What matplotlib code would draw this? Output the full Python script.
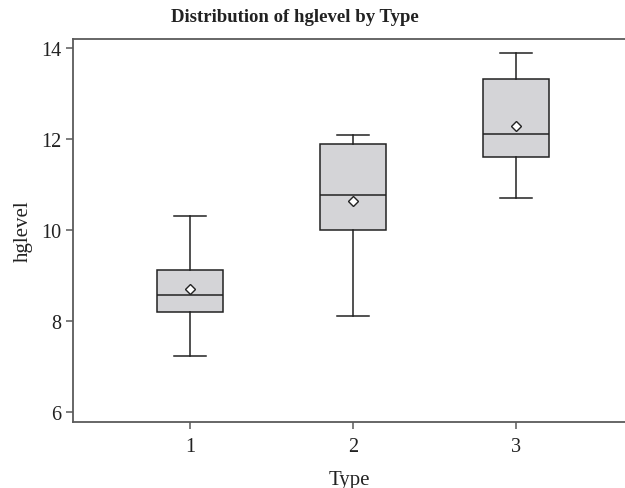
import matplotlib.pyplot as plt

# data
types = ["1", "2", "3"]
whislo = [7.22, 8.12, 10.70]
q1 = [8.20, 10.00, 11.61]
med = [8.57, 10.76, 12.11]
q3 = [9.12, 11.90, 13.32]
whishi = [10.30, 12.09, 13.89]
means = [8.70, 10.64, 12.29]
yticks = [6, 8, 10, 12, 14]

plt.rcParams['font.family'] = ['Liberation Serif', 'DejaVu Serif']

stats = []
for i in range(len(types)):
    stats.append({
        "label": types[i], "whislo": whislo[i], "q1": q1[i], "med": med[i],
        "q3": q3[i], "whishi": whishi[i], "mean": means[i], "fliers": [],
    })

fig = plt.figure(figsize=(6.25, 4.89), dpi=100)
ax = fig.add_axes([73 / 625, 1 - 423 / 489, (625 - 73) / 625, (423 - 40) / 489])

edge = "#222222"
ax.bxp(stats, positions=[1, 2, 3], widths=0.41, showmeans=True, patch_artist=True,
       capwidths=0.2,
       boxprops=dict(facecolor="#d4d4d7", edgecolor=edge, linewidth=1.1),
       medianprops=dict(color=edge, linewidth=1.1),
       whiskerprops=dict(color=edge, linewidth=1.1),
       capprops=dict(color=edge, linewidth=1.1),
       meanprops=dict(marker="D", markerfacecolor="white", markeredgecolor=edge,
                      markersize=5.5, markeredgewidth=1.0))

ax.set_xlim(1 - 117 / 163, 3 + 109 / 163)
ax.set_ylim(6 - 10 / 45.5, 14 + 9 / 45.5)
ax.set_yticks(yticks)
ax.set_yticklabels([str(t) for t in yticks])

ax.spines["right"].set_visible(False)
for s in ["left", "top", "bottom"]:
    ax.spines[s].set_color("#5a5a5a")
    ax.spines[s].set_linewidth(1.3)
ax.tick_params(axis="both", colors="#5a5a5a", labelcolor="#222222", labelsize=14.5,
               length=5, width=1.1)
ax.tick_params(axis="x", pad=6)

ax.set_xlabel("Type", fontsize=15, color="#222222", labelpad=10)
ax.set_ylabel("hglevel", fontsize=15, color="#222222", labelpad=6)
fig.text(295 / 625, 1 - 18 / 489, "Distribution of hglevel by Type", ha="center", va="center",
         fontsize=13.5, fontweight="bold", color="#222222")

fig.savefig("out.png", dpi=100)
